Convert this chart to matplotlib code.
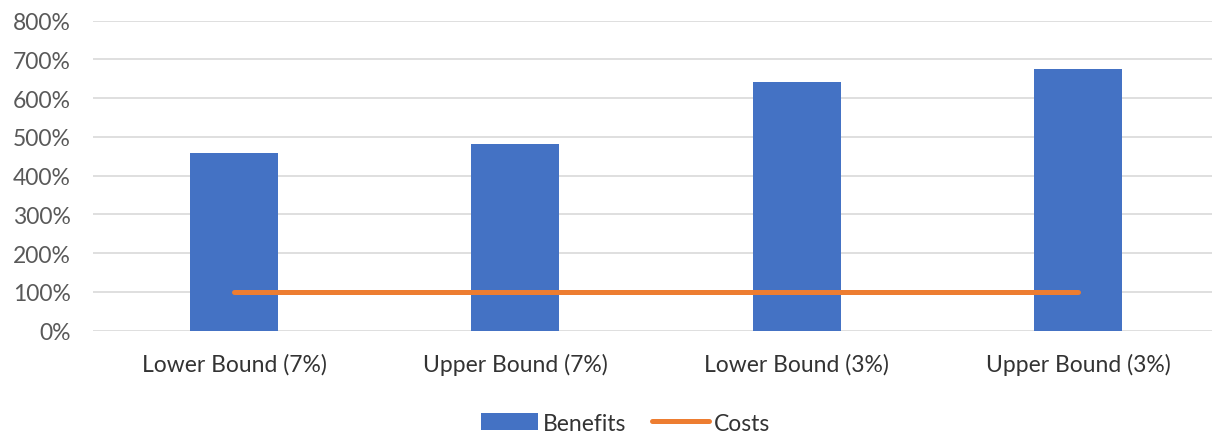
import matplotlib
matplotlib.use('Agg')
import matplotlib.pyplot as plt
from matplotlib.ticker import FuncFormatter

categories = ['Lower Bound (7%)', 'Upper Bound (7%)', 'Lower Bound (3%)', 'Upper Bound (3%)']
benefits = [4.58, 4.82, 6.41, 6.75]
costs = [1.0, 1.0, 1.0, 1.0]

plt.rcParams['font.family'] = ['Lato', 'DejaVu Sans']

fig = plt.figure(figsize=(12.12, 4.35), dpi=100)
ax = fig.add_axes([0.077, 0.2375, 0.923, 0.7125])

x = list(range(len(categories)))
bars = ax.bar(x, benefits, width=0.313, color='#4472C4', label='Benefits', zorder=2)
line, = ax.plot(x, costs, color='#ED7D31', linewidth=3.6, solid_capstyle='round', label='Costs', zorder=3)

ax.set_ylim(0, 8)
ax.set_yticks([i for i in range(9)])
ax.yaxis.set_major_formatter(FuncFormatter(lambda v, p: f'{int(round(v * 100))}%'))
ax.set_xlim(-0.5, 3.476)
ax.set_xticks(x)
ax.set_xticklabels(categories)

ax.grid(axis='y', color='#D9D9D9', linewidth=1.2, zorder=0)
for s in ax.spines.values():
    s.set_visible(False)
ax.tick_params(axis='both', length=0)
ax.tick_params(axis='y', labelsize=16.5, labelcolor='#595959', pad=16)
ax.tick_params(axis='x', labelsize=16.5, labelcolor='#333333', pad=16)

fig.legend([bars, line], ['Benefits', 'Costs'], loc='center', bbox_to_anchor=(0.516, 0.025),
           ncol=2, frameon=False, fontsize=16.5, handlelength=2.5, handleheight=0.75,
           columnspacing=1.1, handletextpad=0.2, labelcolor='#333333')

fig.savefig('out.png', dpi=100)
